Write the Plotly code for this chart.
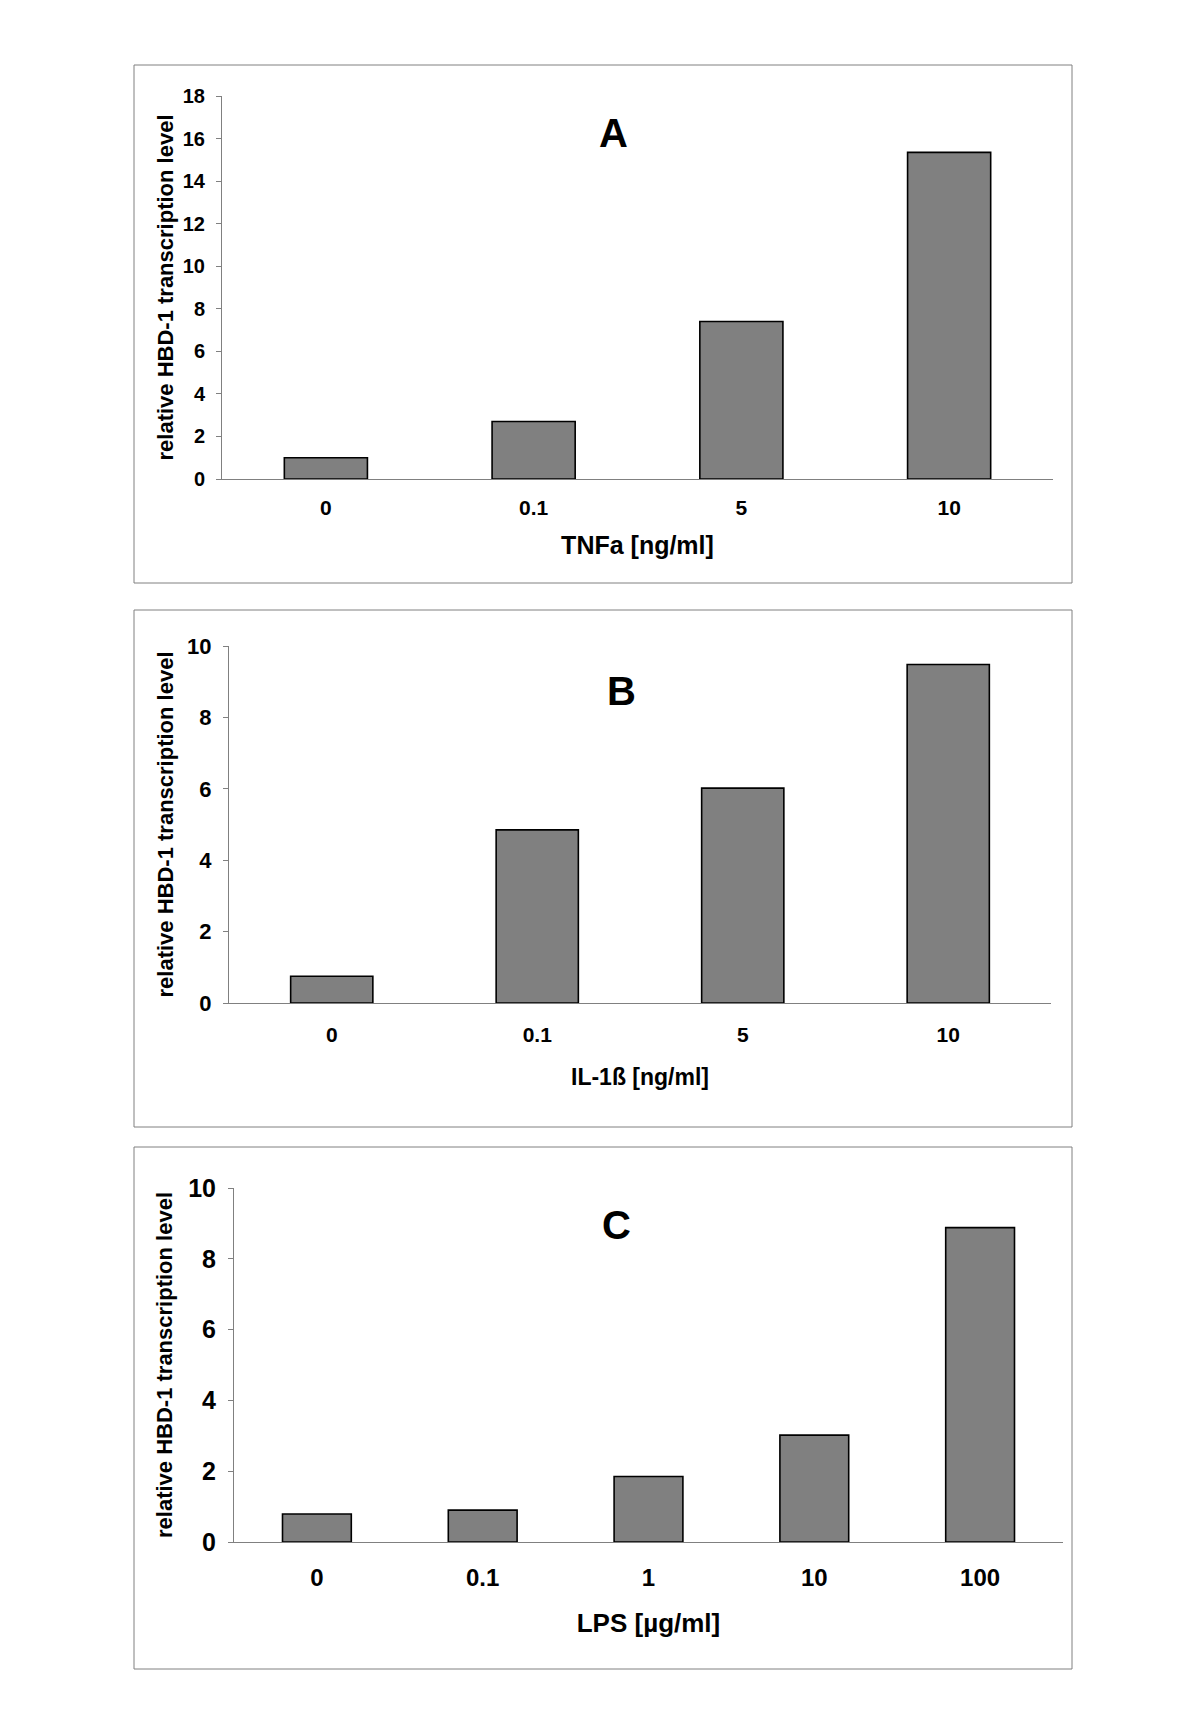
import plotly.graph_objects as go

# ---------------- data ----------------
A_categories = ["0", "0.1", "5", "10"]
A_values = [1.0, 2.7, 7.4, 15.35]
A_xtitle = "TNFa [ng/ml]"

B_categories = ["0", "0.1", "5", "10"]
B_values = [0.75, 4.85, 6.02, 9.48]
B_xtitle = "IL-1ß [ng/ml]"

C_categories = ["0", "0.1", "1", "10", "100"]
C_values = [0.79, 0.90, 1.85, 3.02, 8.88]
C_xtitle = "LPS [µg/ml]"

y_title = "relative HBD-1 transcription level"
panel_letters = ["A", "B", "C"]

# ---------------- layout helpers ----------------
W, H = 1200, 1733
OFF = 8  # compensate the page's default body margin
FONT = "Liberation Sans, Arial, sans-serif"
GRAY = "#808080"


def px_x(x):
    return (x - OFF) / W


def px_y(y):
    return 1 - (y - OFF) / H


panels = [
    dict(cats=A_categories, vals=A_values, xt=A_xtitle, yr=[0, 18],
         xpx=(222, 1053), ypx=(96, 479), box=(134, 65, 1072, 583),
         tick=20, xtick=21, xts=25, xstand=10, xtstand=18, ystand=3, width=0.4,
         letter=(613, 133)),
    dict(cats=B_categories, vals=B_values, xt=B_xtitle, yr=[0, 10],
         xpx=(229, 1051), ypx=(646, 1003), box=(134, 610, 1072, 1127),
         tick=22, xtick=21, xts=23, xstand=13, xtstand=23, ystand=7, width=0.4,
         letter=(621, 691)),
    dict(cats=C_categories, vals=C_values, xt=C_xtitle, yr=[0, 10],
         xpx=(234, 1063), ypx=(1188, 1542), box=(134, 1147, 1072, 1669),
         tick=25, xtick=24, xts=26, xstand=14, xtstand=24, ystand=9, width=0.415,
         letter=(617, 1225)),
]

fig = go.Figure()
shapes = []
annotations = []

for i, p in enumerate(panels):
    n = "" if i == 0 else str(i + 1)
    fig.add_trace(go.Bar(
        x=p["cats"], y=p["vals"], width=p["width"],
        marker=dict(color=GRAY, line=dict(color="black", width=1.6)),
        xaxis="x" + n, yaxis="y" + n, showlegend=False,
    ))
    fig.update_layout(**{
        "xaxis" + n: dict(
            domain=[px_x(p["xpx"][0]), px_x(p["xpx"][1])], anchor="y" + n,
            type="category", range=[-0.5, len(p["cats"]) - 0.5], automargin=False,
            showline=True, linecolor=GRAY, linewidth=1, showgrid=False,
            zeroline=False, ticks="", ticklabelstandoff=p["xstand"],
            tickfont=dict(family=FONT, size=p["xtick"], color="black", weight="bold"),
            title=dict(text=p["xt"], standoff=p["xtstand"],
                       font=dict(family=FONT, size=p["xts"], color="black", weight="bold")),
            fixedrange=True,
        ),
        "yaxis" + n: dict(
            domain=[px_y(p["ypx"][1]), px_y(p["ypx"][0])], anchor="x" + n,
            range=p["yr"], dtick=2, automargin=False,
            showline=True, linecolor=GRAY, linewidth=1, showgrid=False,
            zeroline=False, ticks="outside", ticklen=5, tickcolor=GRAY,
            ticklabelstandoff=7,
            tickfont=dict(family=FONT, size=p["tick"], color="black", weight="bold"),
            title=dict(text=y_title, standoff=p["ystand"],
                       font=dict(family=FONT, size=22, color="black", weight="bold")),
            fixedrange=True,
        ),
    })
    x0, y0, x1, y1 = p["box"]
    shapes.append(dict(type="rect", xref="paper", yref="paper",
                       x0=px_x(x0), x1=px_x(x1), y0=px_y(y1), y1=px_y(y0),
                       line=dict(color=GRAY, width=1), fillcolor="rgba(0,0,0,0)"))
    lx, ly = p["letter"]
    annotations.append(dict(text=panel_letters[i], xref="paper", yref="paper",
                            x=px_x(lx), y=px_y(ly), xanchor="center", yanchor="middle",
                            showarrow=False,
                            font=dict(family=FONT, size=40, color="black", weight="bold")))

fig.update_layout(
    width=W, height=H,
    margin=dict(l=0, r=0, t=0, b=0, autoexpand=False),
    paper_bgcolor="white", plot_bgcolor="white",
    shapes=shapes, annotations=annotations,
    bargap=0.6,
)

fig.write_html("out.html")
